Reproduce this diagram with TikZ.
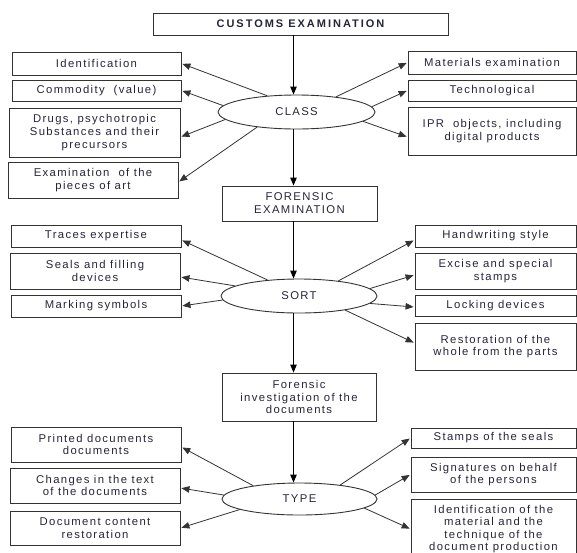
\documentclass[tikz,border=0pt]{standalone}
\usepackage{fontspec}
\setmainfont{Liberation Sans}[LetterSpace=12]
\usetikzlibrary{shapes.geometric,arrows.meta}
\definecolor{txt}{HTML}{25253A}
\definecolor{ln}{HTML}{333333}
\begin{document}
\begin{tikzpicture}[x=1pt,y=-1pt,
  bx/.style={draw=ln,line width=0.9pt,rectangle,align=center,inner sep=0pt,text=txt,font=\fontsize{11.3}{12.8}\selectfont},
  ov/.style={draw=ln,line width=0.9pt,ellipse,inner sep=0pt,text=txt,font=\fontsize{11.3}{12.8}\selectfont},
  arr/.style={draw=ln,line width=0.8pt,-{Triangle[length=8pt,width=6.5pt]},shorten >=1pt},
  varr/.style={draw=black,line width=0.9pt,-{Triangle[length=8pt,width=6.5pt]}}]
\useasboundingbox (0,0) rectangle (577,552);
\coordinate (sp) at (293.5,0);
% spine
\node[bx,minimum width=295,minimum height=22,font=\fontsize{11}{12}\bfseries\addfontfeature{LetterSpace=18}] (title) at (300.5,24) {CUSTOMS EXAMINATION};
\node[ov,minimum width=157,minimum height=34] (cls) at (296.5,112) {CLASS};
\node[bx,minimum width=155,minimum height=35] (fe) at (299.5,203.5) {FORENSIC\\EXAMINATION};
\node[ov,minimum width=156,minimum height=34] (sort) at (299,296) {SORT};
\node[bx,minimum width=154,minimum height=48] (fid) at (299,397) {Forensic\\investigation of the\\documents};
\node[ov,minimum width=155,minimum height=32] (type) at (299.5,499) {TYPE};
% CLASS boxes
\node[bx,minimum width=169,minimum height=23] (id) at (96.5,63.5) {Identification};
\node[bx,minimum width=169,minimum height=21] (com) at (96.5,90.5) {Commodity\ \ (value)};
\node[bx,minimum width=171,minimum height=49] (drugs) at (94.5,132.5) {Drugs, psychotropic\\Substances and their\\precursors};
\node[bx,minimum width=170,minimum height=36] (art) at (93,180) {Examination\ \ of the\\pieces of art};
\node[bx,minimum width=168,minimum height=23] (mat) at (492,62.5) {Materials examination};
\node[bx,minimum width=168,minimum height=21] (tech) at (492,90.5) {Technological};
\node[bx,minimum width=168,minimum height=48] (ipr) at (492,131) {IPR\ \ objects, including\\digital products};
% SORT boxes
\node[bx,minimum width=170,minimum height=22] (tr) at (96,236) {Traces expertise};
\node[bx,minimum width=170,minimum height=36] (seal) at (95,271) {Seals and filling\\devices};
\node[bx,minimum width=170,minimum height=22] (mark) at (96,306) {Marking symbols};
\node[bx,minimum width=161,minimum height=22] (hw) at (495.5,236) {Handwriting style};
\node[bx,minimum width=161,minimum height=36] (exc) at (495.5,271) {Excise and special\\stamps};
\node[bx,minimum width=161,minimum height=21] (lock) at (495.5,305.5) {Locking devices};
\node[bx,minimum width=161,minimum height=47] (rest) at (495.5,346.5) {Restoration of the\\whole from the parts};
% TYPE boxes
\node[bx,minimum width=170,minimum height=35] (pr) at (96,444.5) {Printed documents\\documents};
\node[bx,minimum width=170,minimum height=35] (ch) at (95,485.5) {Changes in the text\\of the documents};
\node[bx,minimum width=170,minimum height=34] (dc) at (95,528) {Document content\\restoration};
\node[bx,minimum width=165,minimum height=20] (st) at (493.5,438) {Stamps of the seals};
\node[bx,minimum width=165,minimum height=35] (sig) at (493.5,474.5) {Signatures on behalf\\of the persons};
\node[bx,minimum width=165,minimum height=60,font=\fontsize{11.3}{12.6}\selectfont] (idm) at (493.5,529) {Identification of the\\material and the\\technique of the\\document production};
% vertical arrows
\draw[varr] (title.south -| sp) -- (cls.north -| sp);
\draw[varr] (cls.south -| sp) -- (fe.north -| sp);
\draw[varr] (fe.south -| sp) -- (sort.north -| sp);
\draw[varr] (sort.south -| sp) -- (fid.north -| sp);
\draw[varr] (fid.south -| sp) -- (type.north -| sp);
% CLASS arrows
\draw[arr] (cls.151.5) -- (id.east);
\draw[arr] (cls.175) -- (com.east);
\draw[arr] (cls.186.5) -- ([yshift=-4.5pt]drugs.east);
\draw[arr] (cls.201.4) -- ([yshift=-2pt]art.east);
\draw[arr] (cls.21.4) -- (mat.west);
\draw[arr] (cls.4.2) -- (tech.west);
\draw[arr] (cls.-8.8) -- ([yshift=-6pt]ipr.west);
% SORT arrows
\draw[arr] (sort.153.4) -- ([yshift=-4pt]tr.east);
\draw[arr] (sort.171.4) -- ([yshift=-6pt]seal.east);
\draw[arr] (sort.183) -- (mark.east);
\draw[arr] (sort.21.3) -- ([yshift=-4pt]hw.west);
\draw[arr] (sort.6.2) -- ([yshift=-4pt]exc.west);
\draw[arr] (sort.-6.1) -- ([yshift=-1.5pt]lock.west);
\draw[arr] (sort.-17) -- ([yshift=3.5pt]rest.west);
% TYPE arrows
\draw[arr] (type.164.2) -- ([yshift=-2.5pt]pr.east);
\draw[arr] (type.177) -- ([yshift=-2.5pt]ch.east);
\draw[arr] (type.190) -- (dc.east);
\draw[arr] (type.19.4) -- (st.west);
\draw[arr] (type.3.7) -- (sig.west);
\draw[arr] (type.-8.7) -- (idm.west);
\end{tikzpicture}
\end{document}
